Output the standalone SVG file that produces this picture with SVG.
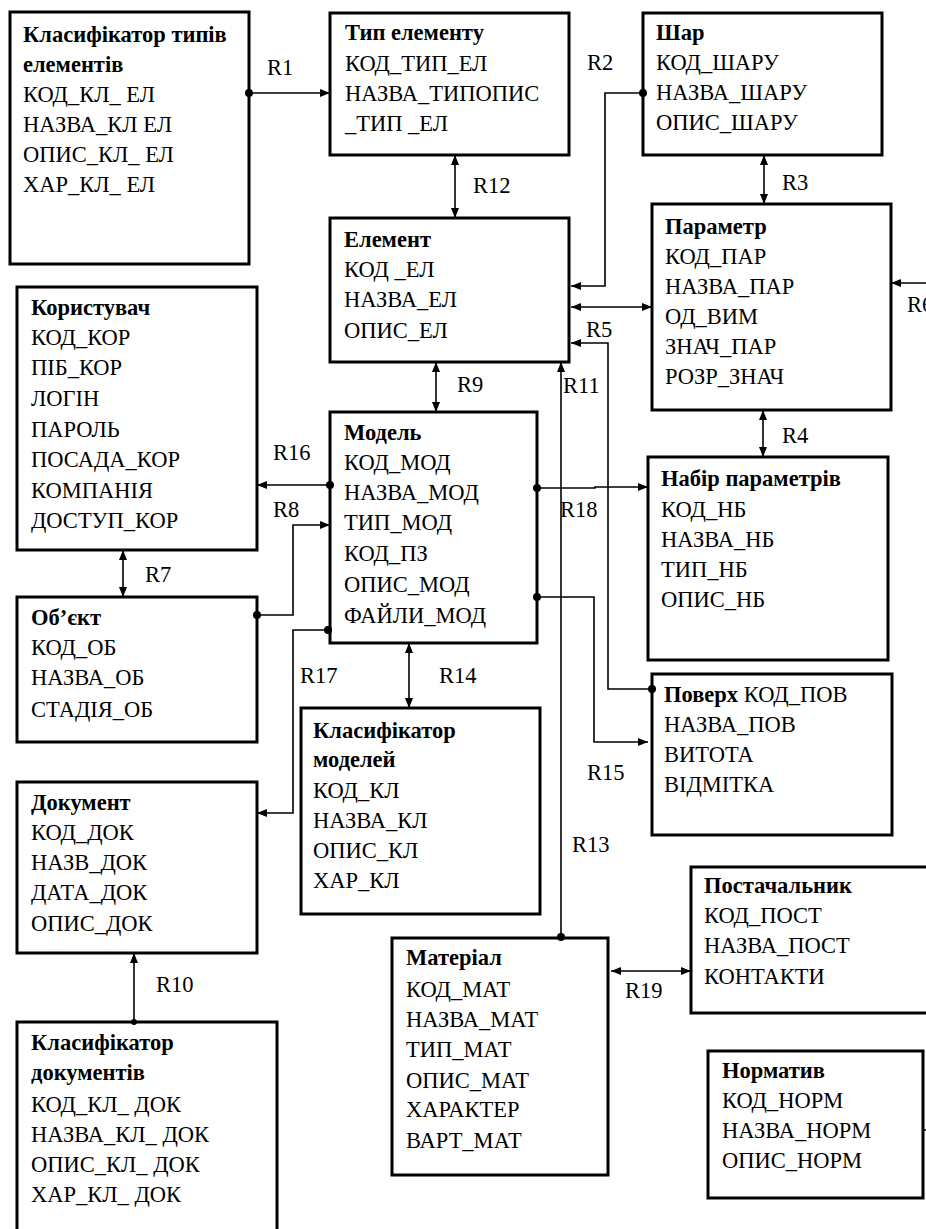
<svg xmlns="http://www.w3.org/2000/svg" width="926" height="1229" viewBox="0 0 926 1229" font-family="'Liberation Serif', 'Times New Roman', serif">
<style>
.box{fill:#fff;stroke:#000;stroke-width:3}
text{font-family:'Liberation Serif','Times New Roman',serif;font-size:22.5px;fill:#000}
.t{font-weight:bold}
.c{fill:none;stroke:#000;stroke-width:1.6}
.d{fill:#000}
</style>
<defs>
<marker id="ah" viewBox="0 0 10 8" refX="10" refY="4" markerWidth="10" markerHeight="8" markerUnits="userSpaceOnUse" orient="auto-start-reverse"><path d="M0,0L10,4L0,8z" fill="#000"/></marker>
</defs>
<rect width="926" height="1229" fill="#fff"/>

<g id="n-klas-typ-el"><rect class="box" x="10" y="12" width="239" height="252"/>
<text x="23" y="42" class="t">Класифікатор типів</text><text x="23" y="72" class="t">елементів</text>
<text x="23" y="102">КОД_КЛ_ ЕЛ</text><text x="23" y="132">НАЗВА_КЛ ЕЛ</text><text x="23" y="162">ОПИС_КЛ_ ЕЛ</text><text x="23" y="192">ХАР_КЛ_ ЕЛ</text></g>

<g id="n-typ-el"><rect class="box" x="330" y="13" width="239" height="142"/>
<text x="345" y="40" class="t">Тип елементу</text><text x="345" y="71">КОД_ТИП_ЕЛ</text><text x="345" y="101">НАЗВА_ТИПОПИС</text><text x="345" y="131">_ТИП _ЕЛ</text></g>

<g id="n-shar"><rect class="box" x="643" y="13" width="239" height="142"/>
<text x="656" y="40" class="t">Шар</text><text x="656" y="70">КОД_ШАРУ</text><text x="656" y="100">НАЗВА_ШАРУ</text><text x="656" y="130">ОПИС_ШАРУ</text></g>

<g id="n-element"><rect class="box" x="330" y="218" width="239" height="144"/>
<text x="344" y="247" class="t">Елемент</text><text x="344" y="277">КОД _ЕЛ</text><text x="344" y="307">НАЗВА_ЕЛ</text><text x="344" y="338">ОПИС_ЕЛ</text></g>

<g id="n-parametr"><rect class="box" x="652" y="204" width="239" height="206"/>
<text x="665" y="234" class="t">Параметр</text><text x="665" y="264">КОД_ПАР</text><text x="665" y="294">НАЗВА_ПАР</text><text x="665" y="324">ОД_ВИМ</text><text x="665" y="354">ЗНАЧ_ПАР</text><text x="665" y="384">РОЗР_ЗНАЧ</text></g>

<g id="n-korystuvach"><rect class="box" x="17" y="287" width="240" height="263"/>
<text x="31" y="315" class="t">Користувач</text><text x="31" y="345">КОД_КОР</text><text x="31" y="375">ПІБ_КОР</text><text x="31" y="406">ЛОГІН</text><text x="31" y="437">ПАРОЛЬ</text><text x="31" y="467">ПОСАДА_КОР</text><text x="31" y="498">КОМПАНІЯ</text><text x="31" y="528">ДОСТУП_КОР</text></g>

<g id="n-model"><rect class="box" x="330" y="412" width="207" height="231"/>
<text x="344" y="440" class="t">Модель</text><text x="344" y="470">КОД_МОД</text><text x="344" y="500">НАЗВА_МОД</text><text x="344" y="530">ТИП_МОД</text><text x="344" y="561">КОД_ПЗ</text><text x="344" y="592">ОПИС_МОД</text><text x="344" y="623">ФАЙЛИ_МОД</text></g>

<g id="n-nabir"><rect class="box" x="648" y="457" width="240" height="203"/>
<text x="661" y="486" class="t">Набір параметрів</text><text x="661" y="517">КОД_НБ</text><text x="661" y="547">НАЗВА_НБ</text><text x="661" y="577">ТИП_НБ</text><text x="661" y="607">ОПИС_НБ</text></g>

<g id="n-obiekt"><rect class="box" x="17" y="597" width="240" height="145"/>
<text x="31" y="625" class="t">Об’єкт</text><text x="31" y="655">КОД_ОБ</text><text x="31" y="685">НАЗВА_ОБ</text><text x="31" y="717">СТАДІЯ_ОБ</text></g>

<g id="n-poverkh"><rect class="box" x="652" y="674" width="240" height="161"/>
<text x="664" y="702"><tspan class="t">Поверх</tspan> КОД_ПОВ</text><text x="664" y="732">НАЗВА_ПОВ</text><text x="664" y="762">ВИТОТА</text><text x="664" y="792">ВІДМІТКА</text></g>

<g id="n-klas-model"><rect class="box" x="301" y="708" width="239" height="206"/>
<text x="313" y="738" class="t">Класифікатор</text><text x="313" y="767" class="t">моделей</text><text x="313" y="798">КОД_КЛ</text><text x="313" y="828">НАЗВА_КЛ</text><text x="313" y="858">ОПИС_КЛ</text><text x="313" y="888">ХАР_КЛ</text></g>

<g id="n-dokument"><rect class="box" x="17" y="782" width="240" height="171"/>
<text x="31" y="810" class="t">Документ</text><text x="31" y="840">КОД_ДОК</text><text x="31" y="870">НАЗВ_ДОК</text><text x="31" y="900">ДАТА_ДОК</text><text x="31" y="931">ОПИС_ДОК</text></g>

<g id="n-klas-dok"><rect class="box" x="17" y="1022" width="260" height="230"/>
<text x="31" y="1050" class="t">Класифікатор</text><text x="31" y="1080" class="t">документів</text><text x="31" y="1112">КОД_КЛ_ ДОК</text><text x="31" y="1142">НАЗВА_КЛ_ ДОК</text><text x="31" y="1172">ОПИС_КЛ_ ДОК</text><text x="31" y="1202">ХАР_КЛ_ ДОК</text></g>

<g id="n-postach"><rect class="box" x="691" y="867" width="250" height="146"/>
<text x="704" y="893" class="t">Постачальник</text><text x="704" y="923">КОД_ПОСТ</text><text x="704" y="953">НАЗВА_ПОСТ</text><text x="704" y="984">КОНТАКТИ</text></g>

<g id="n-material"><rect class="box" x="392" y="938" width="216" height="237"/>
<text x="406" y="965" class="t">Матеріал</text><text x="406" y="997">КОД_МАТ</text><text x="406" y="1027">НАЗВА_МАТ</text><text x="406" y="1057">ТИП_МАТ</text><text x="406" y="1088">ОПИС_МАТ</text><text x="406" y="1117">ХАРАКТЕР</text><text x="406" y="1148">ВАРТ_МАТ</text></g>

<g id="n-normatyv"><rect class="box" x="708" y="1051" width="215" height="147"/>
<text x="722" y="1078" class="t">Норматив</text><text x="722" y="1108">КОД_НОРМ</text><text x="722" y="1138">НАЗВА_НОРМ</text><text x="722" y="1168">ОПИС_НОРМ</text></g>

<g id="connectors">
<path class="c" d="M249,93H330" marker-end="url(#ah)"/><circle class="d" cx="249" cy="93" r="4"/>
<path class="c" d="M643,93H605V286H571" marker-end="url(#ah)"/><circle class="d" cx="643" cy="93" r="4"/>
<path class="c" d="M455,155V218" marker-start="url(#ah)" marker-end="url(#ah)"/>
<path class="c" d="M764,155V204" marker-start="url(#ah)" marker-end="url(#ah)"/>
<path class="c" d="M571,307H652" marker-start="url(#ah)" marker-end="url(#ah)"/>
<path class="c" d="M930,283H891" marker-end="url(#ah)"/>
<path class="c" d="M652,689H608V343H571" marker-end="url(#ah)"/><circle class="d" cx="652" cy="689" r="4"/>
<path class="c" d="M561,938V362" marker-end="url(#ah)"/><circle class="d" cx="561" cy="937" r="4"/>
<path class="c" d="M436,362V412" marker-start="url(#ah)" marker-end="url(#ah)"/>
<path class="c" d="M330,485H257" marker-end="url(#ah)"/><circle class="d" cx="330" cy="485" r="4"/>
<path class="c" d="M257,615H293V525H330" marker-end="url(#ah)"/><circle class="d" cx="257" cy="615" r="4"/>
<path class="c" d="M123,550V597" marker-start="url(#ah)" marker-end="url(#ah)"/>
<path class="c" d="M330,630H293V813H257" marker-end="url(#ah)"/><circle class="d" cx="328" cy="630" r="4"/>
<path class="c" d="M537,488H595V487H648" marker-end="url(#ah)"/><circle class="d" cx="537" cy="488" r="4"/>
<path class="c" d="M537,597H594V742H648" marker-end="url(#ah)"/><circle class="d" cx="537" cy="597" r="4"/>
<path class="c" d="M763,410V457" marker-start="url(#ah)" marker-end="url(#ah)"/>
<path class="c" d="M409,643V708" marker-start="url(#ah)" marker-end="url(#ah)"/>
<path class="c" d="M134,1022V953" marker-end="url(#ah)"/><circle class="d" cx="134" cy="1022" r="3"/>
<path class="c" d="M611,971H691" marker-start="url(#ah)" marker-end="url(#ah)"/>
<path class="c" d="M923,1130H930"/>
<text x="267" y="75">R1</text>
<text x="587" y="70">R2</text>
<text x="473" y="193">R12</text>
<text x="782" y="190">R3</text>
<text x="907" y="312">R6</text>
<text x="586" y="337">R5</text>
<text x="563" y="393">R11</text>
<text x="457" y="392">R9</text>
<text x="273" y="460">R16</text>
<text x="273" y="517">R8</text>
<text x="145" y="582">R7</text>
<text x="560" y="517">R18</text>
<text x="782" y="443">R4</text>
<text x="300" y="683">R17</text>
<text x="439" y="683">R14</text>
<text x="587" y="780">R15</text>
<text x="572" y="852">R13</text>
<text x="156" y="992">R10</text>
<text x="625" y="998">R19</text>
</g>
</svg>
